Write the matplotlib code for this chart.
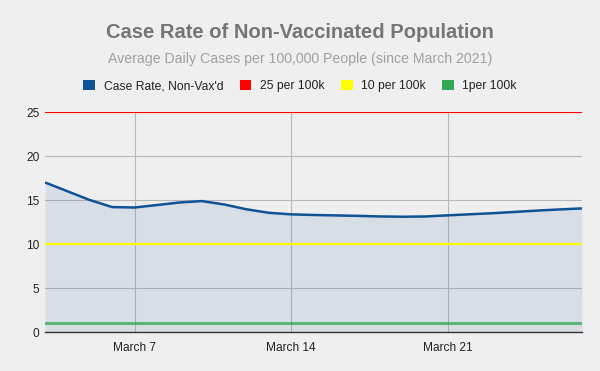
import numpy as np
import matplotlib
matplotlib.use("Agg")
import matplotlib.pyplot as plt
from matplotlib.patches import Patch

plt.rcParams['font.family'] = ['Liberation Sans', 'DejaVu Sans']

# ---- data ----
days = np.arange(3, 28)  # March 3 .. March 27
case_rate = [17.0, 16.0, 15.0, 14.2, 14.15, 14.43, 14.72, 14.88, 14.5, 13.95,
             13.55, 13.37, 13.3, 13.25, 13.2, 13.13, 13.1, 13.13, 13.26, 13.38,
             13.5, 13.65, 13.8, 13.93, 14.05]
threshold_values = [25, 10, 1]
threshold_labels = ['25 per 100k', '10 per 100k', '1per 100k']
threshold_colors = ['#ff0000', '#ffff00', '#34a853']
series_label = "Case Rate, Non-Vax'd"
xtick_days = [7, 14, 21]
xtick_labels = ['March 7', 'March 14', 'March 21']
yticks = [0, 5, 10, 15, 20, 25]

title = 'Case Rate of Non-Vaccinated Population'
subtitle = 'Average Daily Cases per 100,000 People (since March 2021)'

BG = '#efefef'
BLUE = '#0f5295'

fig = plt.figure(figsize=(6.0, 3.71), dpi=100, facecolor=BG)
ax = fig.add_axes([0.075, 0.1051, 0.895, 0.5929], facecolor=BG)

ax.fill_between(days, case_rate, 0, color=BLUE, alpha=0.10, linewidth=0, zorder=2)
ax.plot(days, case_rate, color=BLUE, lw=1.8, zorder=5, solid_capstyle='butt',
        solid_joinstyle='round')

lws = [1.5, 1.6, 2.2]
alphas = [1.0, 1.0, 0.75]
for v, c, lw, a in zip(threshold_values, threshold_colors, lws, alphas):
    ax.axhline(v, color=c, lw=lw, alpha=a, zorder=4)

ax.set_xlim(days[0], days[-1])
ax.set_ylim(0, 25)
ax.set_yticks(yticks)
ax.set_yticklabels([str(t) for t in yticks])
ax.set_xticks(xtick_days)
ax.set_xticklabels(xtick_labels)
ax.grid(True, color='#b8b8b8', lw=0.8, zorder=1)
ax.set_axisbelow(True)
for s in ['top', 'right', 'left']:
    ax.spines[s].set_visible(False)
ax.spines['bottom'].set_color('#333333')
ax.spines['bottom'].set_linewidth(1.0)
ax.spines['bottom'].set_zorder(6)
ax.tick_params(axis='both', length=0, labelsize=8.6, colors='#222222')
ax.tick_params(axis='x', pad=7)
ax.tick_params(axis='y', pad=4)

fig.text(0.5, 1 - 37.7 / 371, title, ha='center', va='baseline', fontsize=14.5,
         fontweight='bold', color='#757575')
fig.text(0.5, 1 - 62.7 / 371, subtitle, ha='center', va='baseline', fontsize=10.2,
         color='#a0a0a0')

handles = [Patch(facecolor=BLUE, edgecolor='none', label=series_label)]
for c, l in zip(threshold_colors, threshold_labels):
    handles.append(Patch(facecolor=c, edgecolor='none', label=l))
fig.legend(handles=handles, loc='center', bbox_to_anchor=(0.5, 1 - 86 / 371),
           ncol=4, frameon=False, fontsize=8.7, handlelength=0.97,
           handleheight=0.97, handletextpad=0.69, columnspacing=1.37,
           labelcolor='#222222')

fig.savefig('out.png', dpi=100, facecolor=BG)
